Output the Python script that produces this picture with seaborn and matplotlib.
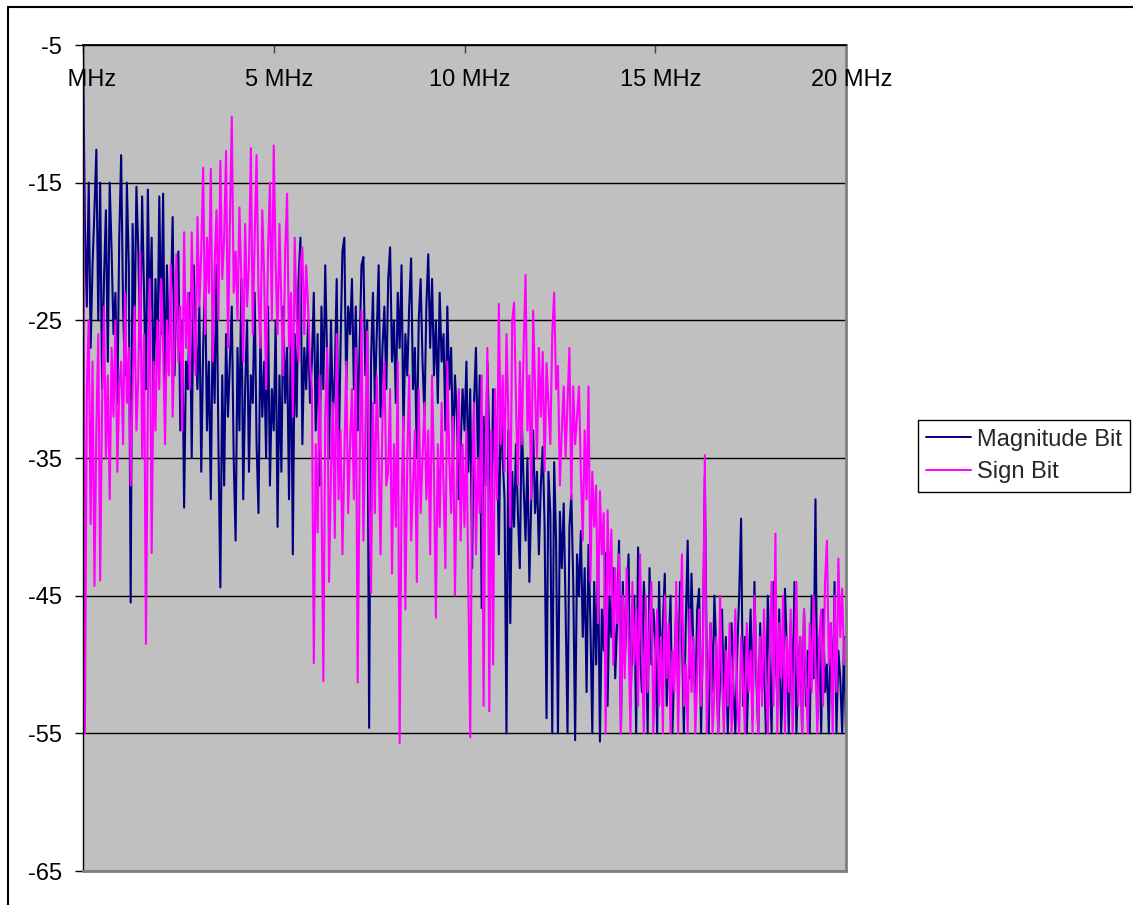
import numpy as np
import pandas as pd
import matplotlib
matplotlib.use('Agg')
import matplotlib.pyplot as plt
import matplotlib.transforms as mtransforms
from matplotlib.lines import Line2D
import seaborn as sns

# spectrum, one row per MHz (0.05 MHz per sample), dB
mag_bit = [
    -5, -18, -24, -15, -27, -21, -17, -12.6, -25, -15, -30, -22, -17, -28, -15, -20, -26, -23, -31, -19,
    -13, -24, -29, -15, -21, -45.5, -18, -26, -15.3, -20, -27, -16, -23, -30, -15.5, -25, -19, -32, -22, -28,
    -16, -26, -15.8, -31, -21, -27, -24, -17.5, -29, -22, -20, -33, -25, -38.6, -28, -30, -23, -35, -21, -26,
    -30, -24, -36, -27, -22, -33, -28, -38, -25, -31, -21, -34, -44.4, -29, -37, -26, -32, -28, -24, -35,
    -41, -27, -33, -22, -38, -30, -25, -36, -29, -31, -23, -34, -39, -26, -32, -28, -35, -24, -37, -30,
    -33, -25, -40, -29, -36, -24, -31, -27, -38, -25, -42, -26, -32, -22, -19, -34, -27, -30, -25, -31,
    -28, -23, -33, -26, -37, -24, -30, -21, -28, -35, -25, -32, -29, -22, -36, -27, -20, -19, -30, -24,
    -26, -22, -30, -24, -33, -27, -21, -20.4, -29, -25, -54.6, -28, -23, -31, -26, -21, -32, -27, -24, -30,
    -22, -19.7, -28, -25, -31, -23, -27, -21, -33, -26, -29, -24, -20.5, -30, -27, -35, -25, -22, -28, -32,
    -24, -20.2, -27, -22, -29, -25, -31, -23, -28, -26, -33, -24, -30, -27, -35, -29, -32, -38, -34, -30,
    -33, -28, -36, -30, -43, -31, -27, -35, -29, -45.9, -32, -37, -28, -34, -40, -30, -36, -33, -42, -31,
    -35, -38, -55, -33, -47, -36, -40, -34, -39, -43, -32, -37, -41, -35, -44, -38, -33, -39, -36, -42,
    -37, -34.2, -40, -53.9, -36, -39, -55, -35.3, -41, -55, -38.9, -43, -38.3, -46, -55, -40, -37.7, -44, -55.5, -42,
    -45, -40.3, -48, -43, -52, -41.3, -47, -55, -44, -50, -42, -55.6, -46, -49, -41.9, -53, -45, -48, -43, -51,
    -47, -41, -55, -44, -50, -46, -42, -53, -48, -45, -55, -41.5, -49, -52, -44, -47, -55, -43, -50, -46,
    -48, -55, -44, -51, -47, -43.4, -53, -49, -45, -55, -50, -46, -52, -44, -48, -55, -47, -41, -51, -43.4,
    -49, -53, -46, -44.5, -55, -48, -36.4, -50, -55, -47, -52, -45, -49, -55, -51, -46, -53, -48, -55, -50,
    -47, -52, -55, -49, -45, -39.4, -53, -48, -55, -50, -46, -54, -44, -51, -55, -47, -52, -49, -55, -45,
    -50, -55, -44, -48, -53, -46, -55, -51, -44.5, -49, -55, -47, -52, -44, -55, -50, -48, -55, -46, -53,
    -49, -55, -45, -51, -38, -54, -48, -55, -46, -52, -50, -55, -47, -53, -44, -55, -49, -51, -55, -48,
    -55,
]

sign_bit = [
    -5, -55, -30, -25, -39.8, -28, -44.3, -33, -26, -43.9, -31, -24, -35, -29, -38, -27, -32, -25, -36, -30,
    -28, -34, -23, -31, -27, -37, -30, -24, -33, -29, -20, -35, -26, -48.5, -31, -22, -41.9, -28, -33, -25,
    -30, -22, -27, -34, -25, -29, -21, -32, -26, -20.2, -28, -24, -33, -18.6, -27, -23, -30, -18.6, -25, -29,
    -17.5, -24, -20, -13.9, -26, -19, -23, -14, -28, -21, -17, -25, -13.4, -22, -19, -12.7, -27, -18, -10.2, -23,
    -20, -25, -16.8, -22, -28, -18, -24, -21, -12.5, -26, -19, -13, -23, -27, -17, -22, -30, -20, -15, -25,
    -12.3, -21, -26, -18, -24, -29, -20, -15.8, -27, -23, -32, -19, -25, -28, -21, -19.7, -26, -21, -24, -28,
    -30, -49.9, -34, -40.4, -29, -37, -51.2, -32, -27, -44, -36, -31, -40.8, -26, -38, -33, -42, -35, -28, -39,
    -34, -30, -38, -27, -51.3, -36, -24.3, -41, -33, -25.8, -37, -44.8, -31, -39, -29, -35, -42, -32, -28, -37,
    -36, -30, -43.4, -34, -40, -28, -55.7, -38, -32, -46, -35, -29, -41, -37, -33, -44, -30, -39, -35, -31,
    -38, -33, -42, -29, -36, -46.6, -34, -40, -31, -37, -43, -28, -35, -39, -32, -45, -36, -30, -41, -34,
    -40, -33, -44, -55.3, -37, -31, -42, -35, -39, -29, -53, -36, -27, -53.4, -33, -50, -30, -38, -23.8, -34,
    -29, -36, -26, -32, -40, -25, -23.7, -31, -37, -28, -34, -27, -21.7, -33, -29, -38, -24.3, -30, -35, -27,
    -32, -27.3, -36, -28.1, -31, -34, -26, -23, -30, -28.3, -37, -33, -29.8, -35, -31, -27, -38, -29.8, -34, -32,
    -29.8, -36, -41, -33, -38, -29.8, -44, -36, -40, -37, -47, -37.4, -42, -39, -55, -38.8, -45, -40.2, -50, -43,
    -47, -42, -55, -45, -51, -43, -48, -55, -44, -50, -46, -53, -42, -49, -55, -45, -52, -47, -44, -55,
    -50, -46, -53, -48, -55, -45, -51, -47, -55, -49, -52, -44, -55, -48, -42, -53, -50, -55, -46, -52,
    -48, -55, -51, -46, -53, -49, -34.8, -55, -50, -47, -55, -52, -48, -55, -45, -51, -55, -49, -53, -47,
    -55, -50, -46, -53, -55, -48, -51, -55, -47, -52, -49, -55, -45, -50, -55, -48, -53, -46, -51, -55,
    -49, -44, -53, -40.5, -55, -47, -51, -45, -55, -48, -52, -46, -55, -50, -44, -53, -48, -55, -46, -51,
    -55, -47, -52, -45, -50, -55, -48, -46, -53, -44, -41, -50, -47, -55, -45, -52, -42.3, -48, -44.5, -50,
    -48,
]

freq_max = 20
x_ticks = [0, 5, 10, 15, 20]
x_labels = [' MHz', '5 MHz', '10 MHz', '15 MHz', '20 MHz']
y_ticks = [-65, -55, -45, -35, -25, -15, -5]
series_names = ['Magnitude Bit', 'Sign Bit']
series_colors = ['#000080', '#FF00FF']


def main():
    sns.set_style('white')
    plt.rcParams['font.family'] = ['Liberation Sans', 'DejaVu Sans']
    plt.rcParams['axes.unicode_minus'] = False

    frames = []
    for name, vals in zip(series_names, [mag_bit, sign_bit]):
        frames.append(pd.DataFrame({
            'freq': np.linspace(0, freq_max, len(vals)),
            'db': vals,
            'series': name,
        }))
    df = pd.concat(frames, ignore_index=True)

    W, H = 1133, 905
    fig = plt.figure(figsize=(W / 100, H / 100), dpi=100)
    ax = fig.add_axes([83 / W, 1 - 871 / H, (846 - 83) / W, (871 - 45) / H])
    ax.set_facecolor('#C0C0C0')

    sns.lineplot(data=df, x='freq', y='db', hue='series', hue_order=series_names,
                 palette=series_colors, linewidth=1.5, estimator=None, sort=False,
                 legend=False, ax=ax)

    ax.set_xlim(0, freq_max)
    ax.set_ylim(-65, -5)
    ax.set_xlabel('')
    ax.set_ylabel('')

    # grid lines
    ax.set_yticks(y_ticks)
    ax.set_axisbelow(True)
    ax.yaxis.grid(True, color='black', linewidth=1)
    ax.xaxis.grid(False)

    ax.tick_params(axis='y', direction='out', length=6, width=1, color='black',
                   labelsize=17, pad=9, left=True, labelcolor='black')

    # category axis sits on the top edge, labels just under it
    ax.set_xticks(x_ticks)
    ax.xaxis.tick_top()
    ax.tick_params(axis='x', direction='in', length=6, width=1, color='#404040',
                   labeltop=False, labelbottom=False, bottom=False)
    trans = mtransforms.blended_transform_factory(ax.transData, ax.transAxes)
    trans = mtransforms.offset_copy(trans, fig=fig, x=5.5, y=0, units='dots')
    for t, lab in zip(x_ticks, x_labels):
        ax.text(t, 1 - (80 - 45) / 826, lab, transform=trans, ha='center', va='center',
                fontsize=17, color='black', clip_on=False)

    ax.spines['left'].set_color('black')
    ax.spines['left'].set_linewidth(1)
    ax.spines['top'].set_color('black')
    ax.spines['top'].set_linewidth(1.3)
    for s in ['right', 'bottom']:
        ax.spines[s].set_color('#808080')
        ax.spines[s].set_linewidth(2)

    handles = [Line2D([0], [0], color=c, lw=1.4) for c in series_colors]
    leg = ax.legend(handles, series_names, loc='center left',
                    bbox_to_anchor=(918 / W, 1 - 456 / H), bbox_transform=fig.transFigure,
                    fontsize=17, frameon=True, fancybox=False, framealpha=1,
                    edgecolor='black', borderaxespad=0, handlelength=1.9,
                    handletextpad=0.25, borderpad=0.35, labelspacing=0.45)
    leg.get_frame().set_linewidth(1)

    # outer chart border (left and top visible)
    fig.add_artist(Line2D([8 / W, 8 / W], [0, 1 - 7 / H], transform=fig.transFigure,
                          color='black', lw=1.5))
    fig.add_artist(Line2D([8 / W, 1], [1 - 7 / H, 1 - 7 / H], transform=fig.transFigure,
                          color='black', lw=1.5))

    fig.savefig('out.png', dpi=100)
    plt.close(fig)


if __name__ == '__main__':
    main()
